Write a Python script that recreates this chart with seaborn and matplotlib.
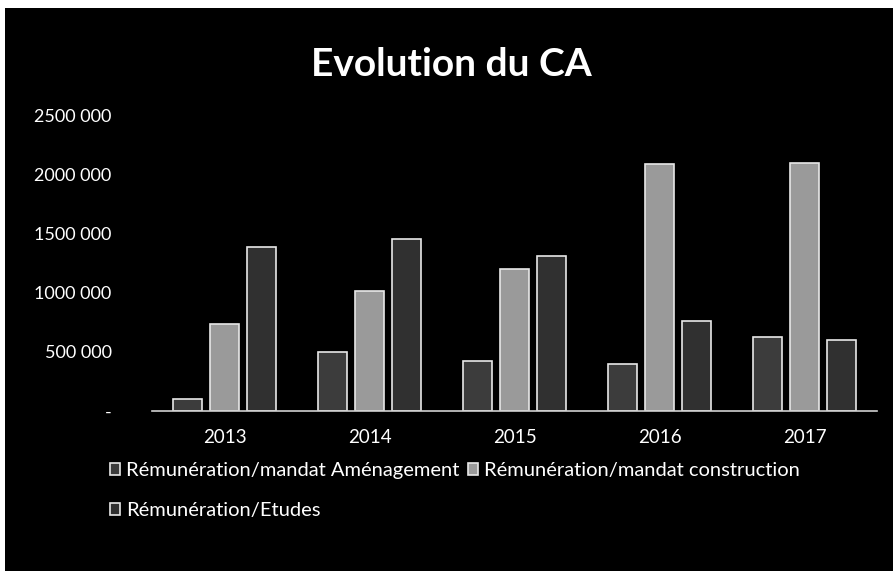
import pandas as pd
import seaborn as sns
import matplotlib.pyplot as plt
from matplotlib.patches import Rectangle

# valeurs
annees = ['2013', '2014', '2015', '2016', '2017']
amenagement = [100000, 500000, 420000, 400000, 625000]
construction = [735000, 1010000, 1200000, 2085000, 2095000]
etudes = [1385000, 1450000, 1310000, 760000, 600000]
series = ['Rémunération/mandat Aménagement',
          'Rémunération/mandat construction',
          'Rémunération/Etudes']
yticks = [0, 500000, 1000000, 1500000, 2000000, 2500000]
ytick_labels = ['-', '500 000', '1000 000', '1500 000', '2000 000', '2500 000']

df = pd.DataFrame({
    'annee': annees * 3,
    'valeur': amenagement + construction + etudes,
    'serie': [series[0]] * 5 + [series[1]] * 5 + [series[2]] * 5,
})

sns.set_theme(style="white")
plt.rcParams['font.family'] = ['Lato', 'DejaVu Sans']

fig = plt.figure(figsize=(8.93, 5.71), dpi=100, facecolor='white')
# fond noir du cadre scanné
fig.patches.append(Rectangle((5 / 893, 0), 1, 1 - 8 / 571, transform=fig.transFigure,
                             facecolor='black', edgecolor='none', zorder=-5))

ax = fig.add_axes([152 / 893, 1 - 411 / 571, (877 - 152) / 893, (411 - 115) / 571])
ax.set_facecolor('black')

palette = ['#3c3c3c', '#9a9a9a', '#303030']
sns.barplot(data=df, x='annee', y='valeur', hue='serie', palette=palette,
            width=0.76, gap=0.22, edgecolor='#e8e8e8', linewidth=1.2, ax=ax)

ax.set_ylim(0, 2500000)
ax.set_yticks(yticks)
ax.set_yticklabels(ytick_labels)
ax.tick_params(axis='y', colors='white', labelsize=13, pad=29, length=0)
ax.tick_params(axis='x', colors='white', labelsize=13.5, pad=13, length=0)
ax.set_xlabel('')
ax.set_ylabel('')

for s in ['top', 'right', 'left']:
    ax.spines[s].set_visible(False)
ax.spines['bottom'].set_color('#d0d0d0')
ax.spines['bottom'].set_linewidth(1.2)

fig.text(0.505, 1 - 64 / 571, 'Evolution du CA', color='white', fontsize=28,
         fontweight='bold', ha='center', va='center')

handles, labels = ax.get_legend_handles_labels()
ax.get_legend().remove()
order = [0, 2, 1]
fig.legend([handles[i] for i in order], [labels[i] for i in order],
           loc='upper left', bbox_to_anchor=(92 / 893, 1 - 444 / 571), ncol=2,
           frameon=False, fontsize=14.5, labelcolor='white',
           handlelength=0.5, handleheight=0.5, handletextpad=0.3,
           columnspacing=0.4, labelspacing=1.15)

plt.savefig('out.png', dpi=100, facecolor=fig.get_facecolor())
